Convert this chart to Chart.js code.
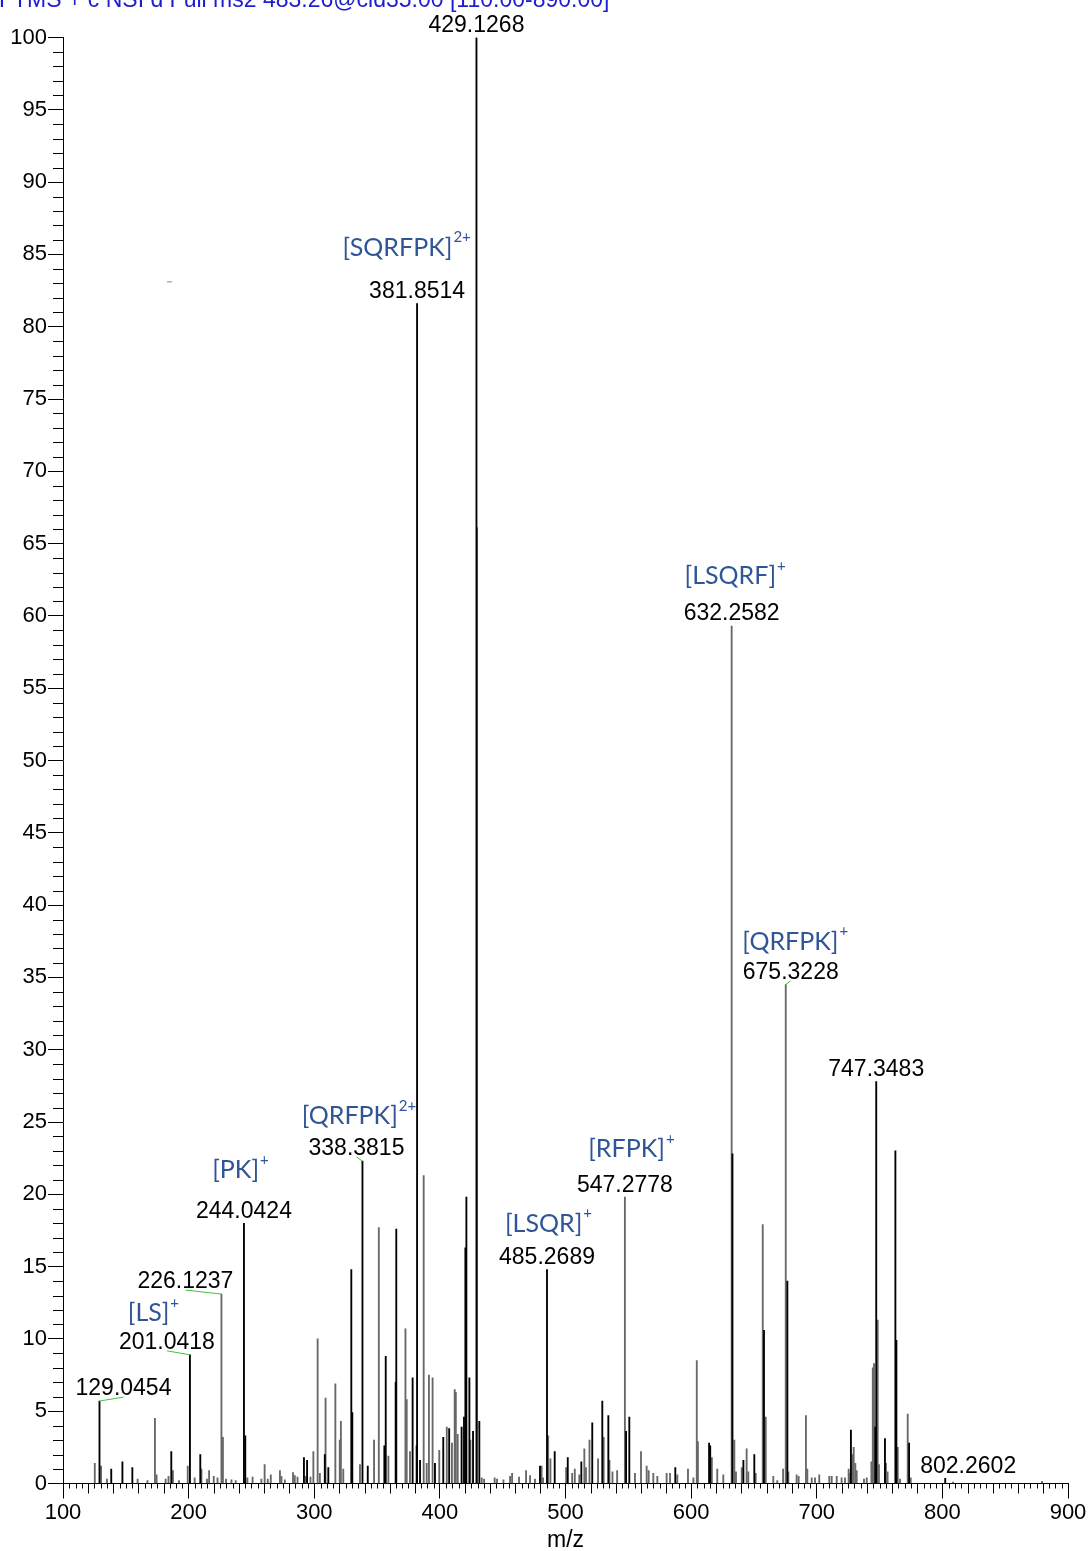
<!DOCTYPE html>
<html>
<head>
<meta charset="utf-8">
<script src="https://cdn.jsdelivr.net/npm/chart.js@4.4.0/dist/chart.umd.min.js"></script>
<style>
  html, body { margin: 0; padding: 0; background: #fff; }
  #grafico { display: block; }
</style>
</head>
<body>
<canvas id="grafico" width="1090" height="1551"></canvas>
<script>
// picos pretos (m/z e intensidade relativa)
const mzPreto = [129.0454, 138.4, 147.3, 155.2, 186.2, 201.0418, 209.3, 244.0424, 245.1, 291.8, 294.3, 308.4, 311.2,
  329.5, 330.3, 338.3815, 342.6, 355.8, 356.9, 364.8, 365.3, 378.3, 381.5, 381.8514, 384.2, 396.1, 402.7, 407.4,
  417.3, 419.2, 420.3, 421.1, 423.5, 426.4, 429.1268, 431.4, 479.7, 485.2689, 491.4, 501.8, 512.6, 521.3, 529.3,
  534.1, 548.2, 550.8, 587.4, 614.3, 615.2, 632.9, 641.6, 650.3, 658.0, 676.6, 727.2, 746.6, 747.3483, 754.3,
  762.6, 763.4, 773.5, 802.2602];
const intPreto = [5.7, 1.0, 1.5, 1.1, 2.2, 8.9, 2.0, 18.0, 3.3, 1.8, 1.6, 2.0, 1.1,
  14.8, 4.9, 22.3, 1.2, 2.6, 8.8, 7.0, 17.6, 7.3, 2.6, 81.6, 1.6, 1.4, 3.2, 3.8,
  3.9, 4.6, 16.3, 19.8, 7.3, 3.6, 100, 4.3, 1.2, 14.8, 2.2, 1.8, 1.5, 4.2, 5.7,
  4.7, 3.6, 4.6, 1.1, 2.8, 2.6, 22.8, 1.6, 2.0, 10.6, 14.0, 3.7, 3.9, 27.8, 3.1,
  23.0, 9.9, 2.8, 0.35];

// picos cinza
const mzCinza = [125.3, 130.3, 135.0, 159.4, 167.2, 173.2, 174.5, 181.7, 184.0, 187.5, 192.3, 199.3, 204.8, 210.2,
  214.6, 216.3, 220.0, 223.0, 226.1237, 227.3, 229.8, 234.1, 237.5, 246.8, 250.9, 257.9, 260.5, 263.0, 265.4,
  272.7, 273.9, 276.6, 283.1, 284.5, 286.7, 293.3, 297.0, 299.3, 302.7, 304.5, 309.0, 316.8, 320.3, 321.2, 323.1,
  336.4, 347.6, 351.4, 359.0, 372.6, 373.6, 376.2, 387.1, 389.5, 391.3, 394.2, 399.5, 405.5, 409.6, 411.8, 412.7,
  414.2, 424.3, 429.6, 433.3, 435.2, 443.6, 445.5, 450.6, 455.9, 457.5, 463.0, 468.6, 471.8, 475.7, 481.0, 482.1,
  486.2, 488.0, 500.5, 505.3, 507.4, 511.0, 515.0, 516.3, 519.1, 525.9, 530.4, 535.0, 537.4, 541.1, 547.2778,
  555.3, 560.1, 564.6, 566.2, 569.9, 573.1, 580.5, 583.2, 589.0, 597.5, 601.8, 604.5, 605.4, 616.5, 620.8, 625.6,
  632.2582, 634.4, 635.7, 640.3, 644.2, 645.5, 651.4, 657.0, 659.4, 665.4, 668.6, 673.2, 675.3228, 677.4, 684.0,
  685.6, 691.4, 692.5, 696.0, 698.6, 702.0, 710.0, 711.9, 715.9, 719.8, 722.5, 725.4, 726.4, 728.3, 729.4, 730.7,
  731.8, 737.6, 739.8, 743.5, 744.6, 745.6, 748.5, 749.5, 755.1, 756.4, 764.5, 766.3, 772.4, 774.8, 808.5, 879.3];
const intCinza = [1.4, 1.2, 0.3, 0.3, 0.2, 4.5, 0.6, 0.3, 0.5, 0.9, 0.2, 1.2, 0.4, 1.0,
  0.3, 0.9, 0.5, 0.4, 13.1, 3.2, 0.3, 0.25, 0.2, 0.4, 0.45, 0.3, 1.3, 0.3, 0.6,
  0.9, 0.5, 0.25, 0.75, 0.55, 0.45, 0.5, 0.45, 2.2, 10.0, 0.7, 5.9, 6.9, 3.0, 4.3, 1.0,
  1.3, 3.0, 17.7, 1.9, 10.7, 5.8, 2.2, 21.3, 1.4, 7.5, 7.3, 2.3, 3.9, 2.8, 6.5, 6.3,
  3.4, 3.0, 66.1, 0.4, 0.3, 0.4, 0.3, 0.25, 0.5, 0.7, 0.45, 0.9, 0.55, 0.3, 1.2, 0.4,
  3.3, 1.7, 1.1, 0.7, 1.0, 0.6, 2.4, 1.1, 3.0, 1.7, 3.2, 1.6, 0.8, 0.9, 19.8,
  0.7, 2.2, 1.2, 0.9, 0.7, 0.5, 0.7, 0.7, 0.6, 1.0, 0.4, 8.5, 2.9, 1.8, 1.0, 0.6,
  59.3, 3.0, 0.8, 1.1, 2.4, 0.8, 0.7, 17.9, 4.6, 0.5, 0.2, 1.0, 34.5, 0.8, 0.6,
  0.5, 4.7, 1.0, 0.4, 0.4, 0.6, 0.5, 0.5, 0.5, 0.4, 0.4, 1.0, 0.7, 2.0, 2.5, 1.4,
  0.9, 0.3, 0.4, 1.5, 8.0, 8.3, 11.3, 1.3, 1.4, 0.8, 2.5, 0.3, 4.8, 0.4, 0.1, 0.15];

// rótulos dos picos
const rotuloMz = [129.0454, 201.0418, 226.1237, 244.0424, 338.3815, 381.8514, 429.1268, 485.2689, 547.2778,
  632.2582, 675.3228, 747.3483, 802.2602];
const rotuloIon = ['', '[LS]', '', '[PK]', '[QRFPK]', '[SQRFPK]', '', '[LSQR]', '[RFPK]', '[LSQRF]', '[QRFPK]', '', ''];
const rotuloCarga = ['', '+', '', '+', '2+', '2+', '', '+', '+', '+', '+', '', ''];

const cabecalho = 'FTMS + c NSI d Full ms2 483.26@cid35.00 [110.00-890.00]';

// deslocamentos dos rótulos (px)
const desloc = [
  { dx: 24, linha: true }, { dx: -23, linha: true, ix: -14, iy: -30 }, { dx: -36, linha: true },
  { dx: 0, ix: -4, iy: -41 }, { dx: -6, linha: true, ix: 2, iy: -33 }, { dx: 0, ix: -11, iy: -44 },
  { dx: 0 }, { dx: 0, ix: 1, iy: -34 }, { dx: 0, ix: 6, iy: -36 }, { dx: 0, ix: 3, iy: -38 },
  { dx: 5, linha: true, ix: 4, iy: -31 }, { dx: 0 }, { dx: 23 }
];

const FONTE = '"Liberation Sans", Arial, sans-serif';
const ctx = document.getElementById('grafico').getContext('2d');

function intensidadeDe(mz) {
  const todos = mzPreto.map((m, i) => [m, intPreto[i]]).concat(mzCinza.map((m, i) => [m, intCinza[i]]));
  let melhor = todos[0];
  todos.forEach(p => { if (Math.abs(p[0] - mz) < Math.abs(melhor[0] - mz)) melhor = p; });
  return melhor[1];
}

const pluginEspectro = {
  id: 'espectro',
  afterDraw(chart) {
    const c = chart.ctx;
    const sx = chart.scales.x, sy = chart.scales.y;
    c.save();

    // ticks menores
    c.strokeStyle = '#000';
    c.lineWidth = 1;
    c.beginPath();
    for (let v = 1; v < 100; v++) {
      if (v % 5 === 0) continue;
      const py = Math.round(sy.getPixelForValue(v)) + 0.5;
      c.moveTo(sx.left - 10, py);
      c.lineTo(sx.left, py);
    }
    for (let m = 105; m < 900; m += 5) {
      if (m % 100 === 0) continue;
      const px = Math.round(sx.getPixelForValue(m)) + 0.5;
      const len = m % 20 === 0 ? 10 : 5;
      c.moveTo(px, sy.bottom);
      c.lineTo(px, sy.bottom + len);
    }
    c.stroke();

    // cabeçalho (cortado no topo)
    c.fillStyle = '#1d1dd0';
    c.font = '23px ' + FONTE;
    c.textAlign = 'left';
    c.textBaseline = 'alphabetic';
    c.fillText(cabecalho, -1, 7);

    // traço verde solto
    c.strokeStyle = '#3cc43c';
    c.beginPath();
    c.moveTo(sx.getPixelForValue(182.8), sy.getPixelForValue(83.1));
    c.lineTo(sx.getPixelForValue(186.8), sy.getPixelForValue(83.1));
    c.stroke();

    rotuloMz.forEach((mz, i) => {
      const d = desloc[i];
      const px = sx.getPixelForValue(mz);
      const py = sy.getPixelForValue(intensidadeDe(mz));
      const lx = px + d.dx;
      const ly = py - 12;

      if (d.linha) {
        c.strokeStyle = '#3cc43c';
        c.lineWidth = 1;
        c.beginPath();
        c.moveTo(lx, ly + 8);
        c.lineTo(px, py);
        c.stroke();
      }

      c.fillStyle = '#000';
      c.font = '23px ' + FONTE;
      c.textAlign = 'center';
      c.textBaseline = 'middle';
      c.fillText(mz.toFixed(4), lx, ly);

      if (rotuloIon[i]) {
        const fBase = '25px Lato, "Open Sans", sans-serif';
        const fSup = '15px Lato, "Open Sans", sans-serif';
        c.font = fBase;
        const wb = c.measureText(rotuloIon[i]).width;
        c.font = fSup;
        const ws = c.measureText(rotuloCarga[i]).width;
        const cx = lx + d.ix;
        const cy = ly + d.iy;
        const x0 = cx - (wb + ws) / 2;
        c.fillStyle = '#2f5597';
        c.textAlign = 'left';
        c.font = fBase;
        c.fillText(rotuloIon[i], x0, cy);
        c.font = fSup;
        c.fillText(rotuloCarga[i], x0 + wb + 1, cy - 10);
      }
    });
    c.restore();
  }
};

const grafico = new Chart(ctx, {
  type: 'bar',
  data: {
    datasets: [
      {
        label: 'cinza',
        data: mzCinza.map((m, i) => ({ x: m, y: intCinza[i] })),
        backgroundColor: '#686868',
        barThickness: 1.2,
        grouped: false,
        order: 2
      },
      {
        label: 'preto',
        data: mzPreto.map((m, i) => ({ x: m, y: intPreto[i] })),
        backgroundColor: '#000',
        barThickness: 1.2,
        grouped: false,
        order: 1
      }
    ]
  },
  options: {
    responsive: false,
    animation: false,
    devicePixelRatio: 1,
    layout: { padding: { top: 37.5, right: 22, left: 0, bottom: 0 } },
    plugins: {
      legend: { display: false },
      tooltip: { enabled: false }
    },
    scales: {
      x: {
        type: 'linear',
        min: 100,
        max: 900,
        offset: false,
        grid: { drawOnChartArea: false, offset: false, tickLength: 15, tickColor: '#000', color: '#000' },
        border: { display: true, color: '#000', width: 1 },
        ticks: {
          stepSize: 100, autoSkip: false, maxRotation: 0, padding: 1, color: '#000',
          font: { family: FONTE, size: 22 },
          callback: v => String(v)
        },
        title: {
          display: true, text: 'm/z', color: '#000',
          font: { family: FONTE, size: 23, lineHeight: 1 },
          padding: { top: 0, bottom: -1 }
        },
        afterFit: s => { s.height = 67.5; }
      },
      y: {
        min: 0,
        max: 100,
        grid: { drawOnChartArea: false, tickLength: 15, tickColor: '#000', color: '#000' },
        border: { display: true, color: '#000', width: 1 },
        ticks: {
          stepSize: 5, padding: 1, color: '#000',
          font: { family: FONTE, size: 22 },
          callback: v => String(v)
        },
        afterFit: s => { s.width = 63; }
      }
    }
  },
  plugins: [pluginEspectro]
});
</script>
</body>
</html>
